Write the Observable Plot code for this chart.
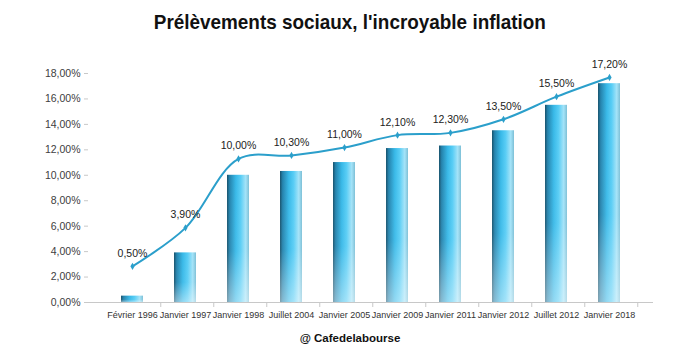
<!DOCTYPE html>
<html>
<head>
<meta charset="utf-8">
<script src="https://cdn.jsdelivr.net/npm/d3@7"></script>
<script src="https://cdn.jsdelivr.net/npm/@observablehq/plot@0.6"></script>
<style>
  html, body { margin: 0; padding: 0; background: #fff; }
  body { width: 700px; height: 356px; overflow: hidden; font-family: "Liberation Sans", Arial, sans-serif; }
  #title { height: 44px; line-height: 44px; text-align: center; font-weight: bold; font-size: 21px; color: #111; }
  #title span { display: inline-block; transform: scaleX(0.9); transform-origin: center; }
  #caption { height: 20px; line-height: 20px; text-align: center; font-weight: bold; font-size: 11.5px; color: #111; }
  #chart svg { display: block; }
</style>
</head>
<body>
<svg width="0" height="0" style="position:absolute">
  <defs>
    <linearGradient id="barH" x1="0" y1="0" x2="1" y2="0">
      <stop offset="0%" stop-color="#17516b"/>
      <stop offset="12%" stop-color="#2483ad"/>
      <stop offset="40%" stop-color="#38b9e8"/>
      <stop offset="62%" stop-color="#58cdf5"/>
      <stop offset="85%" stop-color="#a4e3f8"/>
      <stop offset="100%" stop-color="#7cbfd6"/>
    </linearGradient>
    <linearGradient id="barV" x1="0" y1="0" x2="0" y2="1">
      <stop offset="0%" stop-color="#ffffff" stop-opacity="0"/>
      <stop offset="60%" stop-color="#ffffff" stop-opacity="0.05"/>
      <stop offset="100%" stop-color="#ffffff" stop-opacity="0.45"/>
    </linearGradient>
  </defs>
</svg>
<div id="title"><span>Prélèvements sociaux, l'incroyable inflation</span></div>
<div id="chart"></div>
<div id="caption">@ Cafedelabourse</div>
<script>
// ---- data ----
const categories = ["Février 1996", "Janvier 1997", "Janvier 1998", "Juillet 2004", "Janvier 2005",
                    "Janvier 2009", "Janvier 2011", "Janvier 2012", "Juillet 2012", "Janvier 2018"];
const rates = [0.5, 3.9, 10.0, 10.3, 11.0, 12.1, 12.3, 13.5, 15.5, 17.2];
const yTicks = [0, 2, 4, 6, 8, 10, 12, 14, 16, 18];
// the line series is drawn on a hidden secondary axis (Excel style)
const lineAxisDomain = [-2.7, 17.55];

const fmt = v => v.toFixed(2).replace(".", ",") + "%";
const data = categories.map((c, i) => ({cat: c, rate: rates[i], label: fmt(rates[i])}));

const W = 700, H = 284, mL = 88, mR = 47, mT = 29, mB = 26;
const secondary = d3.scaleLinear().domain(lineAxisDomain).range([0, 18]);
const step = (W - mL - mR) / categories.length;
const lineColor = "#2b9fcb";

const chart = Plot.plot({
  width: W, height: H,
  marginLeft: mL, marginRight: mR, marginTop: mT, marginBottom: mB,
  style: {fontFamily: "'Liberation Sans', Arial, sans-serif", background: "#fff"},
  x: {domain: categories, padding: 0.59, label: null},
  y: {domain: [0, 18], label: null},
  marks: [
    Plot.barY(data, {x: "cat", y: "rate", fill: "url(#barH)"}),
    Plot.barY(data, {x: "cat", y: "rate", fill: "url(#barV)"}),
    Plot.ruleY([0], {stroke: "#c8c8c8"}),
    Plot.ruleX(categories, {x: d => d, dx: step / 2, y1: 0, y2: 0, insetBottom: -5, stroke: "#c8c8c8"}),
    Plot.axisX({tickSize: 0, tickPadding: 9, fontSize: 9, fill: "#333"}),
    Plot.axisY({ticks: yTicks, tickFormat: fmt, tickSize: 4, tickPadding: 4, fontSize: 10.5, fill: "#404040", stroke: "#c8c8c8", line: true}),
    Plot.line(data, {x: "cat", y: d => secondary(d.rate), curve: "catmull-rom", stroke: lineColor, strokeWidth: 2}),
    Plot.dot(data, {x: "cat", y: d => secondary(d.rate), r: 2.2, fill: lineColor, symbol: "diamond"}),
    Plot.text(data, {x: "cat", y: d => secondary(d.rate), text: "label", dy: -13, fontSize: 10.5, fill: "#222"})
  ]
});
document.getElementById("chart").appendChild(chart);
</script>
</body>
</html>
